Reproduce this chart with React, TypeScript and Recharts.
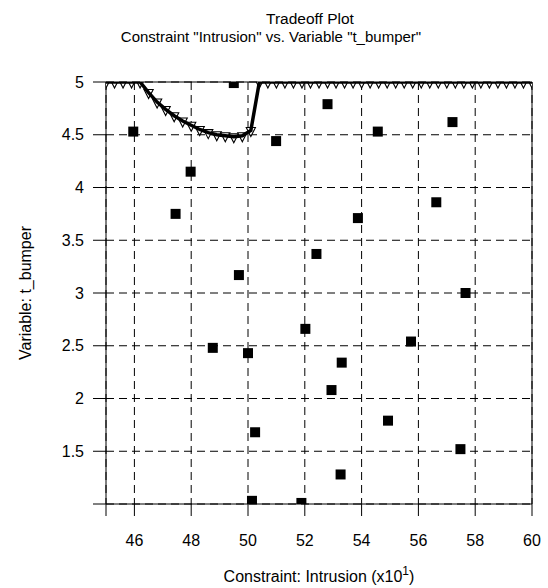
import { ScatterChart, Scatter, XAxis, YAxis, CartesianGrid, ReferenceLine } from 'recharts';

// tradeoff curve (min t_bumper for each intrusion level, x10)
const curveIntrusion = [
  45.0, 45.3, 45.6, 45.9, 46.2, 46.5, 46.8, 47.1, 47.4, 47.7, 48.0, 48.3, 48.6, 48.9, 49.2, 49.5, 49.8,
  50.1, 50.4, 50.7, 51.0, 51.3, 51.6, 51.9, 52.2, 52.5, 52.8, 53.1, 53.4, 53.7, 54.0, 54.3, 54.6, 54.9,
  55.2, 55.5, 55.8, 56.1, 56.4, 56.7, 57.0, 57.3, 57.6, 57.9, 58.2, 58.5, 58.8, 59.1, 59.4, 59.7, 60.0,
];
const curveBumper = [
  5, 5, 5, 5, 5, 4.9, 4.81, 4.74, 4.68, 4.63, 4.59, 4.55, 4.52, 4.5, 4.49, 4.48, 4.49,
  4.54, 5, 5, 5, 5, 5, 5, 5, 5, 5, 5, 5, 5, 5, 5, 5, 5,
  5, 5, 5, 5, 5, 5, 5, 5, 5, 5, 5, 5, 5, 5, 5, 5, 5,
];

// sampled designs
const sampleIntrusion = [
  45.96, 49.5, 47.45, 47.98, 49.68, 48.76, 50.0, 50.25, 50.14, 50.99, 51.88, 52.02, 52.41,
  52.8, 52.94, 53.3, 53.26, 53.87, 54.57, 54.93, 55.74, 56.63, 57.2, 57.48, 57.66,
];
const sampleBumper = [
  4.53, 4.99, 3.75, 4.15, 3.17, 2.48, 2.43, 1.68, 1.03, 4.44, 1.01, 2.66, 3.37,
  4.79, 2.08, 2.34, 1.28, 3.71, 4.53, 1.79, 2.54, 3.86, 4.62, 1.52, 3.0,
];

const xTicks = [45, 46, 48, 50, 52, 54, 56, 58, 60];
const yTicks = [1, 1.5, 2, 2.5, 3, 3.5, 4, 4.5, 5];

const FONT = '"Liberation Sans", Arial, Helvetica, sans-serif';

const curveData = curveIntrusion.map((x, i) => ({ x, y: curveBumper[i] }));
const sampleData = sampleIntrusion.map((x, i) => ({ x, y: sampleBumper[i] }));

function Triangle(props: any) {
  const { cx, cy } = props;
  return (
    <polygon
      points={`${cx - 4.6},${cy - 3} ${cx + 4.6},${cy - 3} ${cx},${cy + 6}`}
      fill="#fff"
      stroke="#000"
      strokeWidth={1.1}
    />
  );
}

function Square(props: any) {
  const { cx, cy } = props;
  return <rect x={cx - 5} y={cy - 5} width={10} height={10} fill="#000" />;
}

const NoMark = () => <g />;

function XLabel(props: any) {
  const { viewBox } = props;
  const cx = viewBox.x + viewBox.width / 2;
  return (
    <text x={cx} y={viewBox.y + 78} textAnchor="middle" fontSize={16} fontFamily={FONT} fill="#000">
      Constraint: Intrusion (x10
      <tspan dy={-7} fontSize={12}>1</tspan>
      <tspan dy={7}>)</tspan>
    </text>
  );
}

function YLabel(props: any) {
  const { viewBox } = props;
  const cy = viewBox.y + viewBox.height / 2;
  return (
    <text
      x={25}
      y={cy}
      transform={`rotate(-90, 25, ${cy})`}
      textAnchor="middle"
      dominantBaseline="central"
      fontSize={16}
      fontFamily={FONT}
      fill="#000"
    >
      Variable: t_bumper
    </text>
  );
}

export default function App() {
  return (
    <div style={{ position: 'absolute', left: 0, top: 0, background: '#fff', fontFamily: FONT }}>
      <ScatterChart width={548} height={588} margin={{ top: 82, right: 16, bottom: 0, left: 0 }}>
        <CartesianGrid stroke="#000" strokeDasharray="8 5" />
        <XAxis
          type="number"
          dataKey="x"
          domain={[45, 60]}
          ticks={xTicks}
          tickFormatter={(v: number) => (v === 45 ? '' : String(v))}
          interval={0}
          height={84}
          tickSize={12}
          tickMargin={19}
          stroke="#000"
          tick={{ fill: '#000', fontSize: 16, fontFamily: FONT }}
          label={<XLabel />}
          allowDataOverflow
        />
        <YAxis
          type="number"
          dataKey="y"
          domain={[1, 5]}
          ticks={yTicks}
          tickFormatter={(v: number) => (v === 1 ? '' : String(v))}
          interval={0}
          width={106}
          tickSize={13}
          tickMargin={9}
          stroke="#000"
          tick={{ fill: '#000', fontSize: 16, fontFamily: FONT }}
          label={<YLabel />}
          allowDataOverflow
        />
        <ReferenceLine y={5} stroke="#000" />
        <ReferenceLine x={60} stroke="#000" />
        <Scatter data={sampleData} shape={<Square />} isAnimationActive={false} />
        <Scatter data={curveData} shape={<Triangle />} isAnimationActive={false} />
        {/* curve line drawn over its markers */}
        <Scatter
          data={curveData}
          line={{ stroke: '#000', strokeWidth: 3.5 }}
          lineJointType="linear"
          shape={<NoMark />}
          isAnimationActive={false}
        />
        <text x={310} y={24} textAnchor="middle" fontSize={15.5} fontFamily={FONT} fill="#000">
          Tradeoff Plot
        </text>
        <text x={271} y={42} textAnchor="middle" fontSize={15} fontFamily={FONT} fill="#000">
          Constraint "Intrusion" vs. Variable "t_bumper"
        </text>
      </ScatterChart>
    </div>
  );
}
